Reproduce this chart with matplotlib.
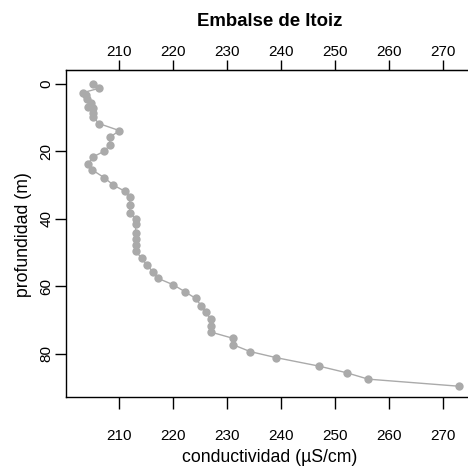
import matplotlib
matplotlib.use("Agg")
import matplotlib.pyplot as plt

# conductivity profile, Itoiz reservoir
conductividad = [205.2, 206.4, 203.4, 203.9, 204.1, 204.9, 204.3, 205.2, 205.2, 205.2,
                 206.3, 210.1, 208.3, 208.3, 207.3, 205.2, 204.3, 205.1, 207.3, 209.0,
                 211.1, 212.0, 212.0, 212.0, 213.1, 213.1, 213.1, 213.1, 213.1, 213.1,
                 214.2, 215.2, 216.4, 217.3, 220.1, 222.2, 224.2, 225.3, 226.2, 227.0,
                 227.0, 227.0, 231.2, 231.2, 234.3, 239.1, 247.0, 252.2, 256.2, 273.0]
profundidad = [0.1, 1.2, 2.5, 3.1, 4.3, 5.5, 6.7, 7.0, 8.5, 9.7,
               11.7, 13.8, 15.8, 18.1, 19.9, 21.6, 23.7, 25.5, 27.8, 30.0,
               31.8, 33.4, 35.9, 38.2, 39.9, 41.5, 44.1, 46.1, 47.8, 49.5,
               51.7, 53.7, 55.9, 57.7, 59.6, 61.6, 63.6, 65.9, 67.8, 69.8,
               71.8, 73.6, 75.5, 77.4, 79.4, 81.2, 83.7, 85.7, 87.6, 89.7]

x_ticks = [210, 220, 230, 240, 250, 260, 270]
y_ticks = [0, 20, 40, 60, 80]

plt.rcParams["font.family"] = ["Liberation Sans", "DejaVu Sans"]

W, H = 468, 471
fig = plt.figure(figsize=(W / 100, H / 100), dpi=100)
ax = fig.add_axes((66 / W, (H - 397) / H, 408 / W, 327 / H))

ax.plot(conductividad, profundidad, color="#aaaaaa", lw=1.0,
        marker="o", markersize=6, markeredgewidth=0, clip_on=False)

ax.set_xlim(200.2, 275.8)
ax.set_ylim(92.9, -4.2)

for s in ["left", "bottom", "top"]:
    ax.spines[s].set_linewidth(1.0)
ax.spines["right"].set_visible(False)

ax.set_xticks(x_ticks)
ax.tick_params(axis="x", direction="out", length=8.6, width=1.0, pad=14.5, labelsize=11)
ax.set_yticks(y_ticks)
ax.set_yticklabels([str(t) for t in y_ticks], rotation=90, va="center")
ax.tick_params(axis="y", direction="out", length=8, width=1.0, pad=1, labelsize=11)

top = ax.secondary_xaxis("top")
top.set_xticks(x_ticks)
top.tick_params(direction="out", length=7.2, width=1.0, pad=1, labelsize=11)

fig.text(270 / W, 1 - 21 / H, "Embalse de Itoiz", ha="center", va="center",
         fontsize=13.4, fontweight="bold")
fig.text(270 / W, 1 - 457 / H, "conductividad (µS/cm)", ha="center", va="center",
         fontsize=12.7)
fig.text(24 / W, 1 - 235 / H, "profundidad (m)", ha="center", va="center",
         rotation=90, fontsize=12.7)

fig.savefig("out.png", dpi=100)
